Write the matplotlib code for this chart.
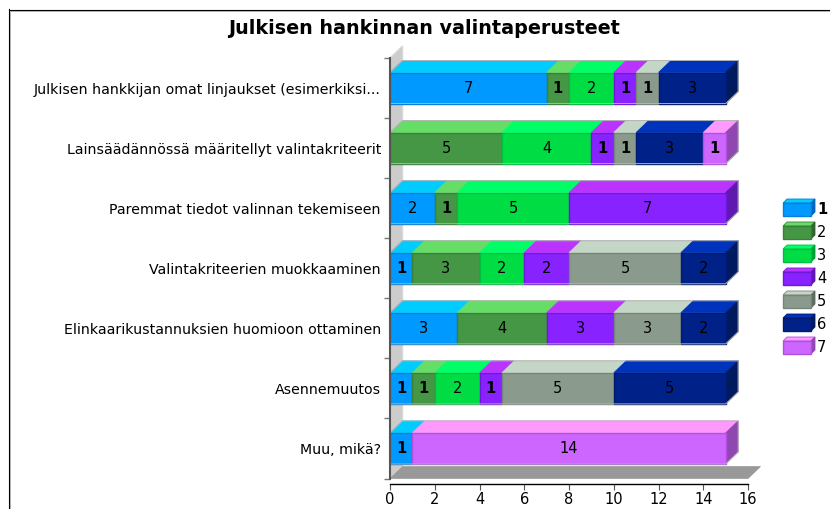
import matplotlib
matplotlib.use('Agg')
from matplotlib import pyplot as plt
from matplotlib.patches import Polygon
import numpy as np

#Data
title = 'Julkisen hankinnan valintaperusteet'
categories = ['Julkisen hankkijan omat linjaukset (esimerkiksi...',
              'Lainsäädännössä määritellyt valintakriteerit',
              'Paremmat tiedot valinnan tekemiseen',
              'Valintakriteerien muokkaaminen',
              'Elinkaarikustannuksien huomioon ottaminen',
              'Asennemuutos',
              'Muu, mikä?']
series_names = ['1', '2', '3', '4', '5', '6', '7']
s1 = [7, 0, 2, 1, 3, 1, 1]
s2 = [1, 5, 1, 3, 4, 1, 0]
s3 = [2, 4, 5, 2, 0, 2, 0]
s4 = [1, 1, 7, 2, 3, 1, 0]
s5 = [1, 1, 0, 5, 3, 5, 0]
s6 = [3, 3, 0, 2, 2, 5, 0]
s7 = [0, 1, 0, 0, 0, 0, 14]
x_ticks = [0, 2, 4, 6, 8, 10, 12, 14, 16]

#Colours of the faces
front = ['#0099ff', '#459645', '#00dd44', '#8822ff', '#8a9a8c', '#002288', '#cc66ff']
top = ['#00ccff', '#66dd66', '#00ff66', '#bb33ff', '#c4d6c6', '#0033bb', '#ff99ff']
side = ['#0066bb', '#2f662f', '#00a038', '#5f18b0', '#5f6b61', '#001a60', '#9048b0']
edge = ['#0080d8', '#3a803a', '#00c040', '#7018d8', '#76857a', '#001a70', '#b050e0']

W, H = 830, 509
fig = plt.figure(figsize=(W / 100, H / 100), dpi=100)
ax = fig.add_axes([390 / W, 1 - 478.5 / H, 358 / W, 420.5 / H])
ax.set_xlim(0, 16)
ax.set_ylim(6.5, -0.5)

#Pseudo 3d depth in data units
dx = 12.5 * 16 / 358
dy = 12 * 7 / 420.5
bar_h = 0.517

#Wall and floor
ax.add_patch(Polygon([(0, -0.5), (dx, -0.5 - dy), (dx, 6.5 - dy), (0, 6.5)], fc='#cccccc', ec='#d8d8d8', lw=1, clip_on=False, zorder=1))
ax.add_patch(Polygon([(0, 6.5), (dx, 6.5 - dy), (16 + dx, 6.5 - dy), (16, 6.5)], fc='#999999', ec='#999999', lw=0.5, clip_on=False, zorder=1))

#Bars
data = np.array([s1, s2, s3, s4, s5, s6, s7])
for i in range(len(categories)):
    left = 0
    ytop = i - bar_h / 2
    ybot = i + bar_h / 2
    last = max(j for j in range(len(data)) if data[j][i] > 0)
    for j in range(len(data)):
        v = data[j][i]
        if v == 0:
            continue
        r = left + v
        ax.add_patch(Polygon([(left, ytop), (left + dx, ytop - dy), (r + dx, ytop - dy), (r, ytop)],
                             fc=top[j], ec=top[j], lw=0.6, clip_on=False, zorder=2))
        if j == last:
            ax.add_patch(Polygon([(r, ytop), (r + dx, ytop - dy), (r + dx, ybot - dy), (r, ybot)],
                                 fc=side[j], ec=side[j], lw=0.6, clip_on=False, zorder=2))
        ax.add_patch(Polygon([(left, ytop), (r, ytop), (r, ybot), (left, ybot)],
                             fc=front[j], ec=edge[j], lw=1, clip_on=False, zorder=3))
        #the ones look heavier in the original
        ax.text(left + v / 2, i, str(v), ha='center', va='center', fontsize=10.5, color='black', zorder=4,
                fontweight='bold' if v == 1 else 'normal')
        left = r
    #light outline round the whole bar
    ax.plot([0, dx, left + dx, left + dx, left, 0], [ytop, ytop - dy, ytop - dy, ybot - dy, ybot, ybot],
            color='#b4b4b4', lw=0.7, clip_on=False, zorder=3.5)

#Axes
for s in ['top', 'right']:
    ax.spines[s].set_visible(False)
ax.spines['left'].set_color('#555555')
ax.spines['left'].set_linewidth(1.5)
ax.spines['left'].set_zorder(5)
ax.spines['bottom'].set_position(('outward', 4))
ax.spines['bottom'].set_linewidth(1)
ax.set_xticks(x_ticks)
ax.tick_params(axis='x', length=4, width=0.8, color='#555555', labelsize=10.5, pad=1.5)
ax.set_yticks(range(len(categories)))
ax.set_yticklabels(categories, fontsize=10.15)
ax.tick_params(axis='y', which='major', length=0, pad=6.5)
ax.set_yticks(np.arange(-0.5, 7), minor=True)
ax.tick_params(axis='y', which='minor', length=4, width=1, color='#777777')

#Overlay in pixels for frame, title and legend
over = fig.add_axes([0, 0, 1, 1], facecolor='none')
over.set_xlim(0, W)
over.set_ylim(H, 0)
over.axis('off')
over.plot([9.5, 9.5], [H, 10], color='#bbbbbb', lw=0.72)
over.plot([9.5, W], [10.5, 10.5], color='#bbbbbb', lw=0.72)
over.plot([8.5, 8.5], [H, 9], color='black', lw=0.8)
over.plot([8.5, W], [9.5, 9.5], color='black', lw=0.8)
over.text(423.5, 28, title, fontsize=13.75, fontweight='bold', ha='center', va='center')

for j in range(len(series_names)):
    y = 203 + j * 23
    over.add_patch(Polygon([(783, y), (787, y - 4), (815, y - 4), (811, y)], fc=top[j], ec=edge[j], lw=0.6))
    over.add_patch(Polygon([(811, y), (815, y - 4), (815, y + 9), (811, y + 13)], fc=side[j], ec=side[j], lw=0.6))
    over.add_patch(Polygon([(783, y), (811, y), (811, y + 13), (783, y + 13)], fc=front[j], ec=edge[j], lw=1))
    over.text(817, y + 6.5, series_names[j], fontsize=10.5, va='center', ha='left',
              fontweight='bold' if j == 0 else 'normal')

plt.savefig('out.png', dpi=100)
